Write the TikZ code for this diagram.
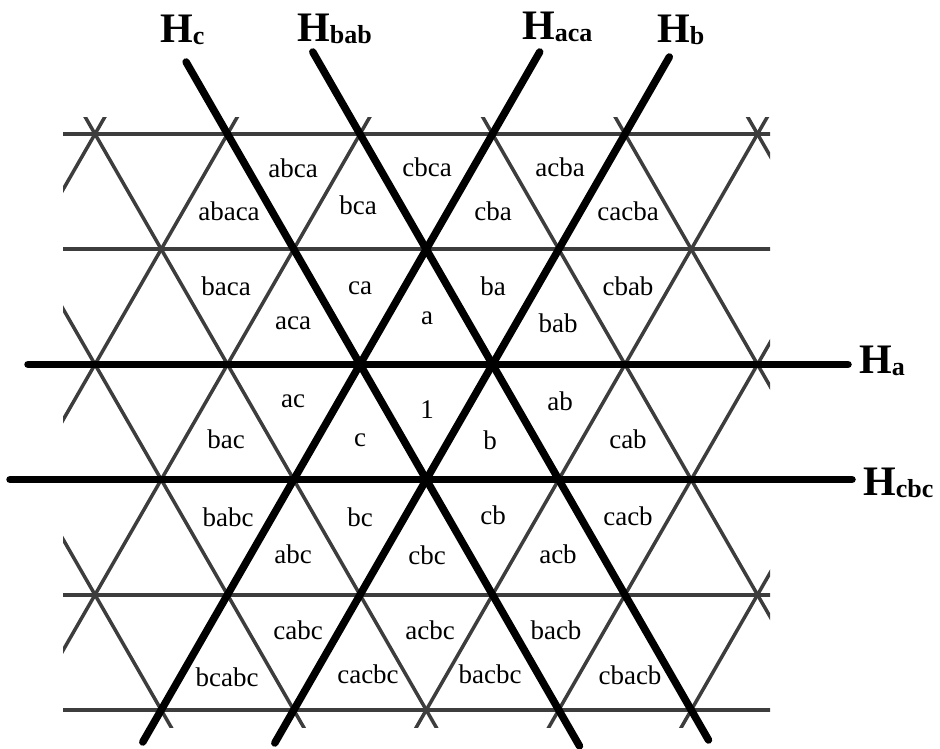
\documentclass[tikz,border=0pt]{standalone}
\usepackage{fontspec}
\setmainfont{Liberation Serif}
\tikzset{
  gline/.style={line width=3.5pt, draw=black!76},
  hline/.style={line width=7.5pt, draw=black, line cap=round},
  lbl/.style={font=\fontsize{27}{27}\selectfont, inner sep=0pt},
  hlbl/.style={font=\fontsize{42}{42}\selectfont\bfseries, inner sep=0pt, anchor=base west},
}
\newcommand{\Hsub}[1]{H\raisebox{-2pt}{\fontsize{26}{26}\selectfont #1}}
\begin{document}
\begin{tikzpicture}[x=1pt,y=-1pt]
\useasboundingbox (0,0) rectangle (940,749);
% thin lattice
\begin{scope}
  \clip (63,118) rectangle (770,727);
  \foreach \r in {0,...,5}
    \draw[gline] (50,{134+115.2*\r}) -- (790,{134+115.2*\r});
  \foreach \k in {-4,...,11} {
    \draw[gline] ({95+132.5*\k-66.25*2},{134-115.2*2}) -- ({95+132.5*\k+66.25*7},{134+115.2*7});
    \draw[gline] ({95+132.5*\k+66.25*2},{134-115.2*2}) -- ({95+132.5*\k-66.25*7},{134+115.2*7});
  }
\end{scope}
% hyperplanes
\coordinate (Hc1) at (186.1,62);   \coordinate (Hc2) at (579.5,746);
\coordinate (Hbab1) at (312.8,52); \coordinate (Hbab2) at (708.5,740);
\coordinate (Haca1) at (539.7,52); \coordinate (Haca2) at (142.8,742);
\coordinate (Hb1) at (669.3,57);   \coordinate (Hb2) at (274.8,743);
\coordinate (Ha1) at (28,364.4);   \coordinate (Ha2) at (848,364.4);
\coordinate (Hcbc1) at (10,479.6); \coordinate (Hcbc2) at (852,479.6);
\draw[hline] (Hc1) -- (Hc2);
\draw[hline] (Hbab1) -- (Hbab2);
\draw[hline] (Haca1) -- (Haca2);
\draw[hline] (Hb1) -- (Hb2);
\draw[hline] (Ha1) -- (Ha2);
\draw[hline] (Hcbc1) -- (Hcbc2);
% hyperplane labels
\node[hlbl] (tHc) at (160,43) {\Hsub{c}};
\node[hlbl] (tHbab) at (297,42) {\Hsub{bab}};
\node[hlbl] (tHaca) at (522,40) {\Hsub{aca}};
\node[hlbl] (tHb) at (657,43) {\Hsub{b}};
\node[hlbl] (tHa) at (859,373) {\Hsub{a}};
\node[hlbl] (tHcbc) at (863,495) {\Hsub{cbc}};
% chamber labels
\foreach \n/\x/\y in {
  abca/293/168, abaca/229/211, bca/358/205, cbca/427/167, cba/493/211, acba/560/167, cacba/628/211,
  baca/226/286, aca/293/323, ca/360/288, a/427/318, ba/493/286, bab/558/323, cbab/628/286,
  ac/293/401, bac/226/439, c/360/440, 1/427/410, b/490/440, ab/560/401, cab/628/439,
  babc/228/517, abc/293/554, bc/360/517, cbc/427/555, cb/493/515, acb/558/554, cacb/628/516,
  cabc/298/630, bcabc/227/677, acbc/430/630, cacbc/368/674, bacb/556/630, bacbc/490/674, cbacb/630/675}
  \node[lbl] (w-\n) at (\x,\y) {\n};
\end{tikzpicture}
\end{document}
